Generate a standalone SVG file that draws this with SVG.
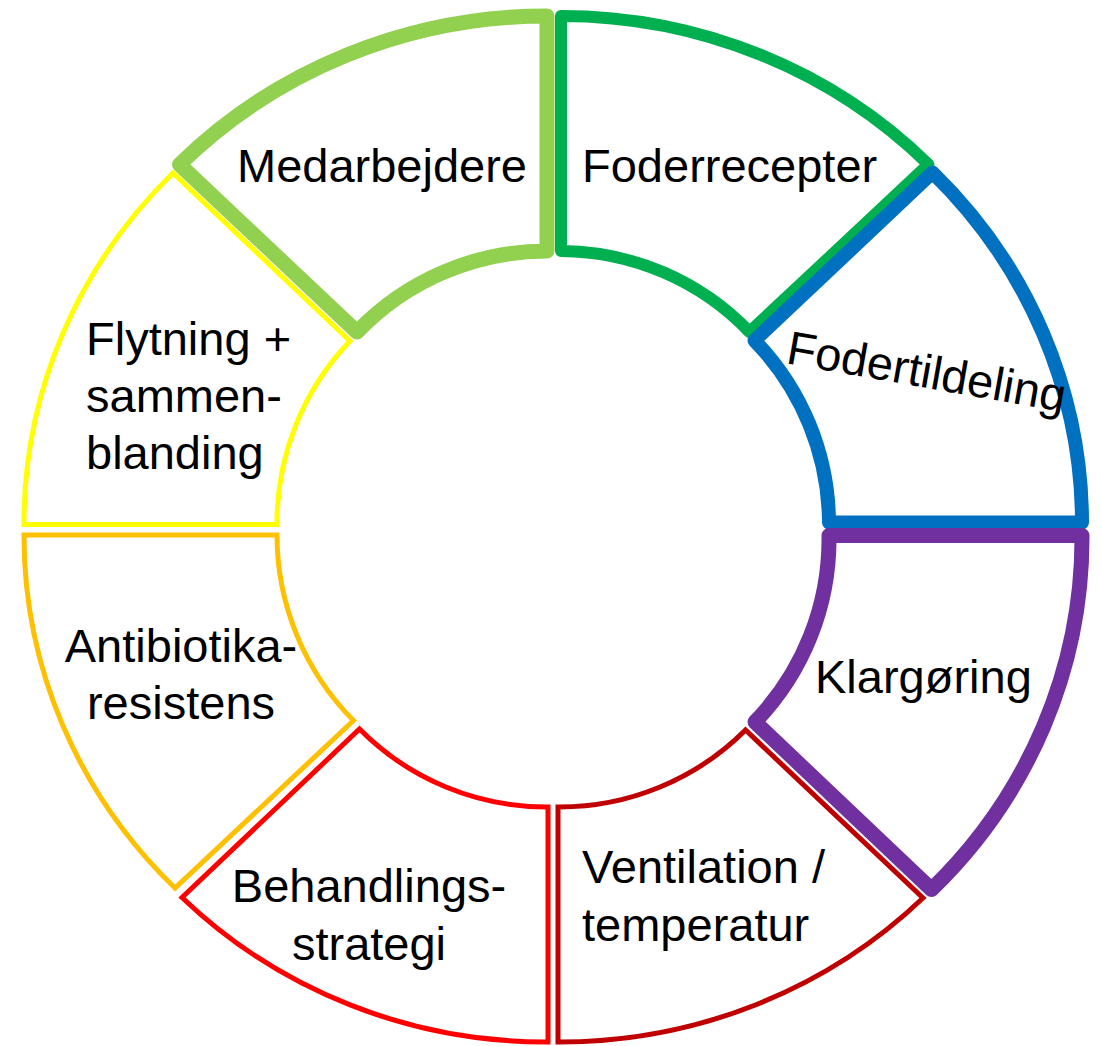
<svg xmlns="http://www.w3.org/2000/svg" width="1102" height="1046" viewBox="0 0 1102 1046">
<style>
.seg{fill:none}
.thin{stroke-width:5;stroke-linejoin:miter}
.thick{stroke-linejoin:round}
text{font-family:"Liberation Sans",Arial,sans-serif;font-size:47px;fill:#000}
</style>
<rect width="1102" height="1046" fill="#fff"/>
<g id="flytning">
<path class="seg thin" stroke="#FFFF00" d="M173,173 A516,498 0 0 0 24,524.5 L277,524.5 A263,263 0 0 1 350,341 Z"/>
<text x="86" y="355">Flytning +</text>
<text x="86" y="412">sammen-</text>
<text x="86" y="469">blanding</text>
</g>
<g id="antibiotika">
<path class="seg thin" stroke="#FFC000" d="M24,535 A516,498 0 0 0 175,888 L353.5,720.5 A263,263 0 0 1 277,535 Z"/>
<text x="181" y="662" text-anchor="middle">Antibiotika-</text>
<text x="181" y="719" text-anchor="middle">resistens</text>
</g>
<g id="behandling">
<path class="seg thin" stroke="#FF0000" d="M182,897.5 A516,498 0 0 0 548,1042 L548,807 A263,263 0 0 1 359.5,729 Z"/>
<text x="369" y="902" text-anchor="middle">Behandlings-</text>
<text x="369" y="960" text-anchor="middle">strategi</text>
</g>
<g id="ventilation">
<path class="seg thin" stroke="#C00000" d="M558,1042 A516,498 0 0 0 923,898 L745.5,730 A263,263 0 0 1 558,807 Z"/>
<text x="582" y="883">Ventilation /</text>
<text x="582" y="941">temperatur</text>
</g>
<g id="foderrecepter">
<path class="seg thick" stroke="#00B050" stroke-width="12" d="M928.5,164.5 A516,498 0 0 0 561,16 L561,251 A263,263 0 0 1 749.5,332 Z"/>
<text x="582" y="182">Foderrecepter</text>
</g>
<g id="medarbejdere">
<path class="seg thick" stroke="#92D050" stroke-width="15" d="M547,16 A516,498 0 0 0 179.5,164.5 L357,332 A263,263 0 0 1 547,251 Z"/>
<text x="237" y="182">Medarbejdere</text>
</g>
<g id="fodertildeling">
<path class="seg thick" stroke="#0070C0" stroke-width="14" d="M1082,522.5 A516,498 0 0 0 932.5,172.5 L754.5,340.5 A263,263 0 0 1 829,522.5 Z"/>
<text transform="translate(785,363) rotate(10)">Fodertildeling</text>
</g>
<g id="klargoring">
<path class="seg thick" stroke="#7030A0" stroke-width="15" d="M931.5,889.5 A516,498 0 0 0 1082,535.5 L829,535.5 A263,263 0 0 1 755,722 Z"/>
<text x="815" y="693">Klargøring</text>
</g>
<g id="connectors"></g>
</svg>
